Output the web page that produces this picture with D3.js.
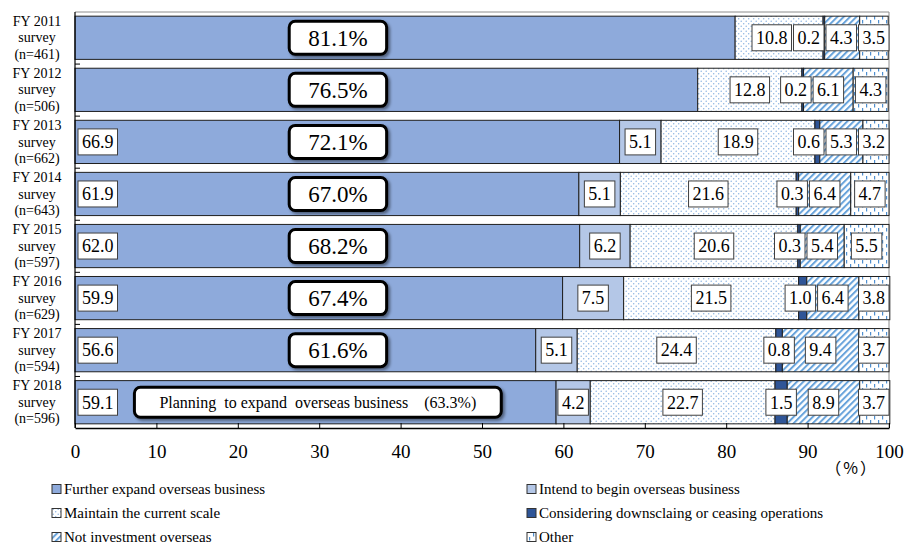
<!DOCTYPE html>
<html>
<head>
<meta charset="utf-8">
<script src="https://cdn.jsdelivr.net/npm/d3@7"></script>
</head>
<body style="margin:0;background:#fff">
<svg id="chart" width="908" height="544"></svg>
<script>
// Survey rounds and respondent counts
const surveys = ["FY 2011", "FY 2012", "FY 2013", "FY 2014", "FY 2015", "FY 2016", "FY 2017", "FY 2018"];
const sampleSizes = [461, 506, 662, 643, 597, 629, 594, 596];

// Answer shares (%) per survey round
const expandFurther  = [81.1, 76.5, 66.9, 61.9, 62.0, 59.9, 56.6, 59.1];
const beginNew       = [0, 0, 5.1, 5.1, 6.2, 7.5, 5.1, 4.2];
const maintainScale  = [10.8, 12.8, 18.9, 21.6, 20.6, 21.5, 24.4, 22.7];
const downsizeOrExit = [0.2, 0.2, 0.6, 0.3, 0.3, 1.0, 0.8, 1.5];
const notInvesting   = [4.3, 6.1, 5.3, 6.4, 5.4, 6.4, 9.4, 8.9];
const otherAnswer    = [3.5, 4.3, 3.2, 4.7, 5.5, 3.8, 3.7, 3.7];

// Combined share planning to expand (further expand + begin)
const planningTotals = [81.1, 76.5, 72.1, 67.0, 68.2, 67.4, 61.6, 63.3];

const xTicks = [0, 10, 20, 30, 40, 50, 60, 70, 80, 90, 100];

const seriesKeys = ["expand", "begin", "maintain", "downsize", "notinvest", "other"];
const seriesNames = [
  "Further expand overseas business",
  "Intend to begin overseas business",
  "Maintain the current scale",
  "Considering downsclaing or ceasing operations",
  "Not investment overseas",
  "Other"
];

const SERIF = "'Liberation Serif', 'Times New Roman', serif";

const rows = surveys.map((s, i) => ({
  survey: s,
  n: sampleSizes[i],
  expand: expandFurther[i],
  begin: beginNew[i],
  maintain: maintainScale[i],
  downsize: downsizeOrExit[i],
  notinvest: notInvesting[i],
  other: otherAnswer[i],
  total: planningTotals[i]
}));

const svg = d3.select("#chart").style("font-family", SERIF);
const defs = svg.append("defs");

// Fills: solid tones and patterns
const dots = defs.append("pattern").attr("id", "pat-dots")
  .attr("patternUnits", "userSpaceOnUse").attr("width", 5).attr("height", 5);
dots.append("rect").attr("width", 5).attr("height", 5).attr("fill", "#fff");
dots.append("circle").attr("cx", 1.2).attr("cy", 1.2).attr("r", 0.75).attr("fill", "#8db5e2");
dots.append("circle").attr("cx", 3.7).attr("cy", 3.7).attr("r", 0.75).attr("fill", "#8db5e2");

const hatch = defs.append("pattern").attr("id", "pat-hatch")
  .attr("patternUnits", "userSpaceOnUse").attr("width", 4.5).attr("height", 4.5)
  .attr("patternTransform", "rotate(45)");
hatch.append("rect").attr("width", 4.5).attr("height", 4.5).attr("fill", "#fff");
hatch.append("rect").attr("width", 2).attr("height", 4.5).attr("fill", "#68a3db");

const dash = defs.append("pattern").attr("id", "pat-dash")
  .attr("patternUnits", "userSpaceOnUse").attr("width", 8).attr("height", 8);
dash.append("rect").attr("width", 8).attr("height", 8).attr("fill", "#fff");
dash.append("rect").attr("x", 2).attr("y", 0).attr("width", 1.2).attr("height", 3.5).attr("fill", "#4f8fd0");
dash.append("rect").attr("x", 6).attr("y", 4).attr("width", 1.2).attr("height", 3.5).attr("fill", "#4f8fd0");

const shadow = defs.append("filter").attr("id", "box-shadow")
  .attr("x", "-10%").attr("y", "-20%").attr("width", "130%").attr("height", "160%");
shadow.append("feDropShadow").attr("dx", 2).attr("dy", 2).attr("stdDeviation", 1.5)
  .attr("flood-color", "#000").attr("flood-opacity", 0.45);

const fills = {
  expand: "#8eaadb",
  begin: "#b4c7e7",
  maintain: "url(#pat-dots)",
  downsize: "#2f5597",
  notinvest: "url(#pat-hatch)",
  other: "url(#pat-dash)"
};

// Scales
const x = d3.scaleLinear().domain([0, 100]).range([75, 889]);
const y = d3.scaleBand().domain(surveys).range([12, 428])
  .paddingInner(0.17).paddingOuter(0.08);

// Plot frame (top and right)
svg.append("path")
  .attr("d", `M${x(0)},${y.range()[0]}H${x(100)}V${y.range()[1]}`)
  .attr("fill", "none").attr("stroke", "#8c8c8c").attr("stroke-width", 1);

// Stacked bars
const stack = d3.stack().keys(seriesKeys)(rows);
const layers = svg.append("g").selectAll("g").data(stack).join("g")
  .attr("fill", d => fills[d.key]);
layers.selectAll("rect").data(d => d).join("rect")
  .attr("x", d => x(d[0]))
  .attr("y", d => y(d.data.survey))
  .attr("width", d => Math.max(0, x(d[1]) - x(d[0])))
  .attr("height", y.bandwidth())
  .attr("stroke", d => (d[1] - d[0]) > 0 ? "#1f1f1f" : "none")
  .attr("stroke-width", 1);

// Axes
const xAxis = svg.append("g").attr("transform", `translate(0,${y.range()[1]})`)
  .call(d3.axisBottom(x).tickValues(xTicks).tickSizeInner(-5).tickSizeOuter(0).tickPadding(17));
xAxis.attr("font-family", null);
xAxis.select(".domain").attr("stroke", "#000").attr("stroke-width", 1.5);
xAxis.selectAll(".tick line").attr("stroke", "#000");
xAxis.selectAll(".tick text").attr("font-size", 19).style("font-family", SERIF).attr("fill", "#000");

const yAxisG = svg.append("g").attr("transform", `translate(${x(0)},0)`);
yAxisG.append("line").attr("y1", y.range()[0]).attr("y2", y.range()[1])
  .attr("stroke", "#000").attr("stroke-width", 1.2);
const boundaries = surveys.map((s, i) => y.range()[0] + i * y.step());
yAxisG.selectAll("line.tk").data(boundaries.slice(1)).join("line").attr("class", "tk")
  .attr("x1", 0).attr("x2", 5).attr("y1", d => d).attr("y2", d => d)
  .attr("stroke", "#000");

// Category labels
const catLabels = svg.append("g").selectAll("text").data(rows).join("text")
  .attr("text-anchor", "middle").attr("font-size", 14).style("font-family", SERIF)
  .attr("x", 37)
  .attr("y", d => y(d.survey) + y.bandwidth() / 2);
catLabels.append("tspan").attr("x", 37).attr("dy", "-0.85em").text(d => d.survey);
catLabels.append("tspan").attr("x", 37).attr("dy", "1.18em").text("survey");
catLabels.append("tspan").attr("x", 37).attr("dy", "1.18em").text(d => `(n=${d.n})`);

// Unit mark
svg.append("text").attr("x", x(95.4)).attr("y", 474).attr("text-anchor", "middle")
  .attr("font-size", 16).attr("letter-spacing", 2)
  .style("font-family", "'Noto Sans CJK JP', sans-serif")
  .text("（%）");

// Value labels in white boxes
const labelLayer = svg.append("g");
const boxH = 26, padX = 4, gap = 2;

function measure(str, size) {
  const t = svg.append("text").attr("font-size", size)
    .style("font-family", SERIF).style("white-space", "pre").text(str);
  const w = t.node().getComputedTextLength();
  t.remove();
  return w;
}

rows.forEach((row, i) => {
  const cy = y(row.survey) + y.bandwidth() / 2;
  const layout = [];
  let acc = 0;
  seriesKeys.forEach(k => {
    const v = row[k];
    const start = acc;
    acc += v;
    if (v <= 0) return;
    const str = v.toFixed(1);
    const w = measure(str, 18) + padX * 2;
    if (k === "expand") {
      // shown only when the combined callout differs from this share
      if (row.begin > 0) layout.push({ str, w, left: x(0) + 3, fixed: true });
      return;
    }
    layout.push({ str, w, cx: x(start + v / 2), fixed: false });
  });
  // keep boxes from overlapping, packing right to left
  let limit = x(100);
  for (let j = layout.length - 1; j >= 0; j--) {
    const L = layout[j];
    if (L.fixed) continue;
    const right = Math.min(L.cx + L.w / 2, limit);
    L.left = right - L.w;
    limit = L.left - gap;
  }
  layout.forEach(L => {
    labelLayer.append("rect")
      .attr("x", L.left).attr("y", cy - boxH / 2)
      .attr("width", L.w).attr("height", boxH)
      .attr("fill", "#fff").attr("stroke", "#404040").attr("stroke-width", 1);
    labelLayer.append("text")
      .attr("x", L.left + L.w / 2).attr("y", cy)
      .attr("dy", "0.35em").attr("text-anchor", "middle")
      .attr("font-size", 18).style("font-family", SERIF).text(L.str);
  });
});

// Combined "planning to expand" callouts
const calloutLayer = svg.append("g");
rows.forEach((row, i) => {
  const cy = y(row.survey) + y.bandwidth() / 2;
  const isLong = i === rows.length - 1;
  const str = isLong
    ? `Planning  to expand  overseas business    (${row.total.toFixed(1)}%)`
    : `${row.total.toFixed(1)}%`;
  const size = isLong ? 16 : 23;
  const tw = measure(str, size);
  const w = isLong ? tw + 50 : tw + 38;
  const h = isLong ? 30 : 33;
  const left = isLong ? x(7.3) : x(32.3) - w / 2;
  calloutLayer.append("rect")
    .attr("x", left).attr("y", cy - h / 2)
    .attr("width", w).attr("height", h)
    .attr("rx", 6).attr("ry", 6)
    .attr("fill", "#fff").attr("stroke", "#000").attr("stroke-width", 3)
    .attr("filter", "url(#box-shadow)");
  calloutLayer.append("text")
    .attr("x", left + w / 2).attr("y", cy).attr("dy", "0.35em")
    .attr("text-anchor", "middle").attr("font-size", size)
    .style("font-family", SERIF).style("white-space", "pre").text(str);
});

// Legend
const legendPos = [
  [52, 489], [527, 489],
  [52, 513], [527, 513],
  [52, 537], [527, 537]
];
const legend = svg.append("g").selectAll("g").data(seriesKeys).join("g")
  .attr("transform", (d, i) => `translate(${legendPos[i][0]},${legendPos[i][1]})`);
legend.append("rect").attr("x", 0).attr("y", -4.5).attr("width", 9).attr("height", 9)
  .attr("fill", d => fills[d]).attr("stroke", "#333").attr("stroke-width", 1);
legend.append("text").attr("x", 12).attr("y", 0).attr("dy", "0.35em")
  .attr("font-size", 15).style("font-family", SERIF).text((d, i) => seriesNames[i]);
</script>
</body>
</html>
